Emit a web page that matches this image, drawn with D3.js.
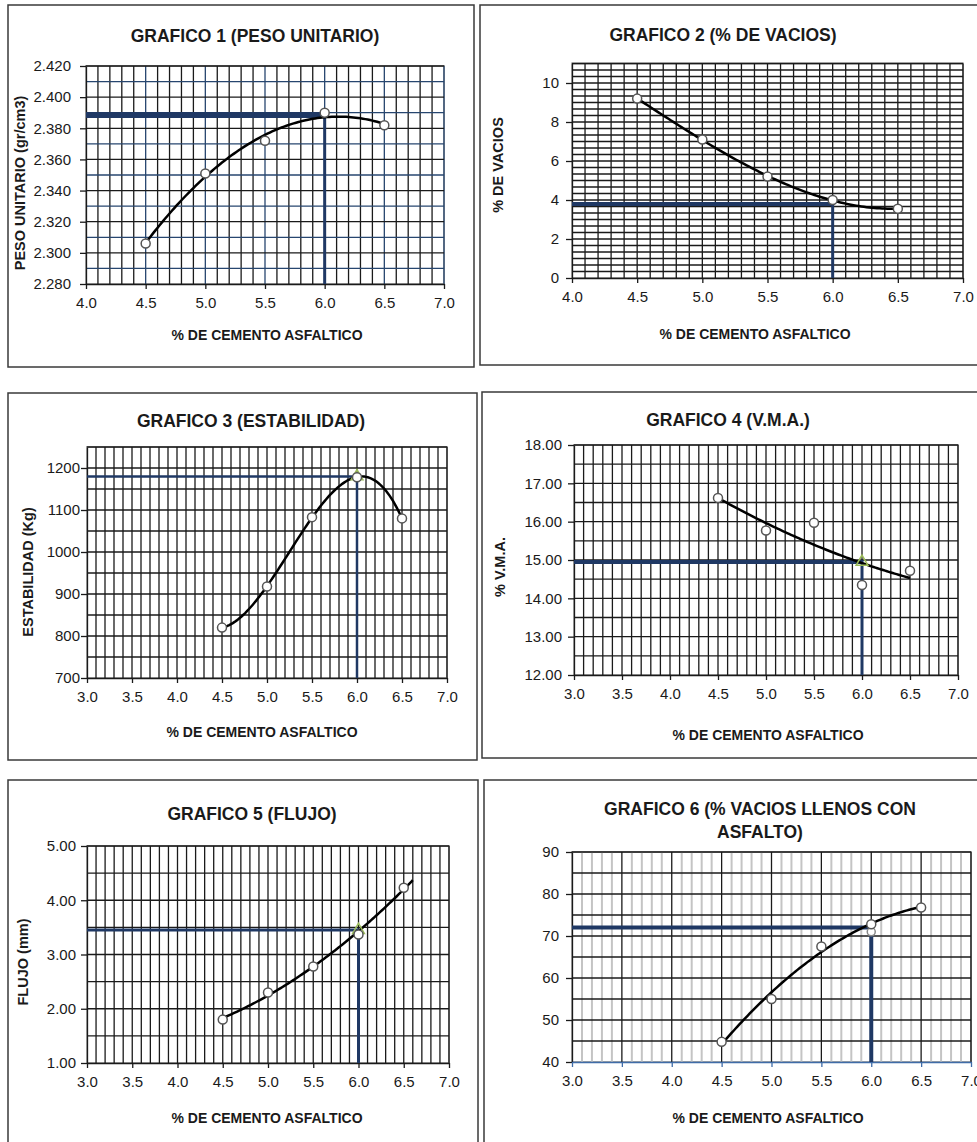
<!DOCTYPE html>
<html>
<head>
<meta charset="utf-8">
<script src="https://cdn.jsdelivr.net/npm/d3@7"></script>
<style>
  body { margin: 0; background: #fff; }
  text { font-family: "Liberation Sans", Arial, sans-serif; fill: #1a1a1a; }
</style>
</head>
<body>
<script>
// Datos de ensayo Marshall (% de cemento asfaltico)
var pctCemento = [4.5, 5.0, 5.5, 6.0, 6.5];
var pesoUnitario = [2.306, 2.351, 2.372, 2.390, 2.382];
var vacios = [9.2, 7.1, 5.2, 4.0, 3.55];
var estabilidad = [820, 918, 1083, 1178, 1080];
var vma = [16.62, 15.77, 15.97, 14.35, 14.72];
var flujo = [1.80, 2.30, 2.78, 3.37, 4.23];
var vacLlenos = [44.8, 55.0, 67.5, 72.8, 76.8];

var optimoCA = 6.0;
var valoresOptimos = [2.3885, 3.8, 1180, 14.95, 3.45, 72];

var titulos = [
  ["GRAFICO 1 (PESO UNITARIO)"],
  ["GRAFICO 2 (% DE VACIOS)"],
  ["GRAFICO 3 (ESTABILIDAD)"],
  ["GRAFICO 4 (V.M.A.)"],
  ["GRAFICO 5 (FLUJO)"],
  ["GRAFICO 6 (% VACIOS LLENOS CON", "ASFALTO)"]
];
var yTitulos = ["PESO UNITARIO (gr/cm3)", "% DE VACIOS", "ESTABILIDAD (Kg)", "% V.M.A.", "FLUJO (mm)", ""];
var xTitulo = "% DE CEMENTO ASFALTICO";

var yTicks = [
  [2.280, 2.300, 2.320, 2.340, 2.360, 2.380, 2.400, 2.420],
  [0, 2, 4, 6, 8, 10],
  [700, 800, 900, 1000, 1100, 1200],
  [12, 13, 14, 15, 16, 17, 18],
  [1, 2, 3, 4, 5],
  [40, 50, 60, 70, 80, 90]
];
var yFormatos = [".3f", "d", "d", ".2f", ".2f", "d"];

var W = 977, H = 1142;
var svg = d3.select("body").append("svg").attr("width", W).attr("height", H);

var navy = "#1f3864";
var gridBlue = "#27466f";

// layout de cada panel
var panels = [
  { data: pesoUnitario, box: [8, 5, 466, 362], plot: [86, 66, 444, 284], xDom: [4, 7], yDom: [2.28, 2.42],
    title: [255, 42], xlab: [267, 340], ytit: [20, 183], ylabGap: 14, order: 2, fitRange: [4.5, 6.5],
    yGrid: 0.01, yGridBlue: true, xMajorBlue: true, hw: 6, vw: 3 },
  { data: vacios, box: [480, 5, 520, 360], plot: [572, 63.5, 963, 278], xDom: [4, 7], yDom: [0, 11],
    title: [723, 41], xlab: [755, 339], ytit: [498, 165], ylabGap: 12, order: 3, fitRange: [4.5, 6.5],
    yGrid: 1 / 3, hw: 4, vw: 3 },
  { data: estabilidad, box: [8, 393, 469, 367], plot: [87, 447, 447, 678], xDom: [3, 7], yDom: [700, 1250],
    title: [251, 427], xlab: [262, 737], ytit: [28, 572], ylabGap: 6, order: 3, fitRange: [4.5, 6.5],
    yGrid: 50, hw: 2.5, vw: 2.5, marker: "tri" },
  { data: vma, box: [482, 392, 520, 366], plot: [574, 445, 958, 675], xDom: [3, 7], yDom: [12, 18],
    title: [728, 426], xlab: [768, 740], ytit: [500, 567], ylabGap: 11, order: 2, fitRange: [4.5, 6.5],
    yGrid: 0.5, hw: 4, vw: 3, marker: "tri" },
  { data: flujo, box: [8, 780, 470, 400], plot: [87, 846, 449, 1063], xDom: [3, 7], yDom: [1, 5],
    title: [252, 820], xlab: [267, 1123], ytit: [23, 962], ylabGap: 10, order: 2, fitRange: [4.5, 6.6],
    yGrid: 0.5, hw: 3, vw: 3, marker: "tri" },
  { data: vacLlenos, box: [484, 780, 520, 400], plot: [572, 852, 971, 1062], xDom: [3, 7], yDom: [40, 90],
    title: [760, 815], xlab: [768, 1123], ytit: null, ylabGap: 12, order: 2, fitRange: [4.5, 6.5],
    yGrid: 5, grayMinor: true, blueAxis: true, hw: 4, vw: 4, marker: "dot", markerY: 71 }
];

// ajuste polinomial por minimos cuadrados (linea de tendencia)
function polyFit(xs, ys, order) {
  var n = order + 1, c = 5.5;
  var A = [];
  for (var i = 0; i < n; i++) {
    A.push(new Array(n + 1).fill(0));
    for (var j = 0; j < n; j++) {
      A[i][j] = d3.sum(xs, x => Math.pow(x - c, i + j));
    }
    A[i][n] = d3.sum(xs, (x, k) => ys[k] * Math.pow(x - c, i));
  }
  for (var p = 0; p < n; p++) {
    var piv = p;
    for (var r = p + 1; r < n; r++) if (Math.abs(A[r][p]) > Math.abs(A[piv][p])) piv = r;
    var tmp = A[p]; A[p] = A[piv]; A[piv] = tmp;
    for (var r2 = p + 1; r2 < n; r2++) {
      var f = A[r2][p] / A[p][p];
      for (var k = p; k <= n; k++) A[r2][k] -= f * A[p][k];
    }
  }
  var coef = new Array(n).fill(0);
  for (var q = n - 1; q >= 0; q--) {
    var s = A[q][n];
    for (var k2 = q + 1; k2 < n; k2++) s -= A[q][k2] * coef[k2];
    coef[q] = s / A[q][q];
  }
  return function(x) {
    return d3.sum(coef, (a, idx) => a * Math.pow(x - c, idx));
  };
}

panels.forEach(function(p, i) {
  var g = svg.append("g");

  // marco del grafico
  g.append("rect")
    .attr("x", p.box[0]).attr("y", p.box[1])
    .attr("width", p.box[2]).attr("height", p.box[3])
    .attr("fill", "none").attr("stroke", "#3a3a3a").attr("stroke-width", 1.5);

  var xScale = d3.scaleLinear().domain(p.xDom).range([p.plot[0], p.plot[2]]);
  var yScale = d3.scaleLinear().domain(p.yDom).range([p.plot[3], p.plot[1]]);

  // borde del area de trazado (gris)
  g.append("rect")
    .attr("x", p.plot[0]).attr("y", p.plot[1])
    .attr("width", p.plot[2] - p.plot[0]).attr("height", p.plot[3] - p.plot[1])
    .attr("fill", "none").attr("stroke", "#a6a6a6").attr("stroke-width", 2);

  // grilla vertical cada 0.1
  var xs = d3.range(p.xDom[0] + 0.1, p.xDom[1] + 0.001, 0.1);
  var isMajor = d => Math.abs(d * 2 - Math.round(d * 2)) < 1e-6;
  g.selectAll(".vgrid").data(xs).enter().append("line")
    .attr("x1", d => xScale(d)).attr("x2", d => xScale(d))
    .attr("y1", p.plot[1]).attr("y2", p.plot[3])
    .attr("stroke", function(d) {
      if (p.grayMinor) return isMajor(d) ? "#1a1a1a" : "#c4c4c4";
      if (p.xMajorBlue && isMajor(d)) return gridBlue;
      return "#1a1a1a";
    })
    .attr("stroke-width", d => (p.grayMinor && !isMajor(d)) ? 2 : 1.3);

  // grilla horizontal
  var nY = Math.round((p.yDom[1] - p.yDom[0]) / p.yGrid);
  var ys = d3.range(1, nY + 1).map(k => p.yDom[0] + k * p.yGrid);
  g.selectAll(".hgrid").data(ys).enter().append("line")
    .attr("x1", p.plot[0]).attr("x2", p.plot[2])
    .attr("y1", d => yScale(d)).attr("y2", d => yScale(d))
    .attr("stroke", (d, k) => (p.yGridBlue && k % 2 === 0) ? gridBlue : "#1a1a1a")
    .attr("stroke-width", 1.3);

  // ejes
  var yAxis = d3.axisLeft(yScale).tickValues(yTicks[i]).tickFormat(d3.format(yFormatos[i]))
    .tickSizeInner(6).tickSizeOuter(0).tickPadding(p.ylabGap - 5);
  var yg = g.append("g").attr("transform", `translate(${p.plot[0]},0)`).call(yAxis);
  yg.select(".domain").attr("stroke", "#1a1a1a").attr("stroke-width", 1.3);
  yg.selectAll(".tick line").attr("stroke", "#1a1a1a").attr("stroke-width", 1.3);
  yg.selectAll("text").attr("font-size", 15).attr("fill", "#1a1a1a")
    .style("font-family", "'Liberation Sans', Arial, sans-serif");

  var xAxis = d3.axisBottom(xScale).tickValues(d3.range(p.xDom[0], p.xDom[1] + 0.001, 0.5))
    .tickFormat(d3.format(".1f")).tickSizeInner(5).tickSizeOuter(0).tickPadding(8);
  var xg = g.append("g").attr("transform", `translate(0,${p.plot[3]})`).call(xAxis);
  var axisColor = p.blueAxis ? "#3f6ca8" : "#1a1a1a";
  xg.select(".domain").attr("stroke", axisColor).attr("stroke-width", 1.6);
  xg.selectAll(".tick line").attr("stroke", axisColor).attr("stroke-width", 1.3);
  xg.selectAll("text").attr("font-size", 15).attr("fill", "#1a1a1a")
    .style("font-family", "'Liberation Sans', Arial, sans-serif");

  // lineas del contenido optimo
  var vOpt = valoresOptimos[i];
  g.append("line")
    .attr("x1", xScale(p.xDom[0])).attr("x2", xScale(optimoCA))
    .attr("y1", yScale(vOpt)).attr("y2", yScale(vOpt))
    .attr("stroke", navy).attr("stroke-width", p.hw);
  g.append("line")
    .attr("x1", xScale(optimoCA)).attr("x2", xScale(optimoCA))
    .attr("y1", yScale(vOpt) - p.hw / 2).attr("y2", yScale(p.yDom[0]))
    .attr("stroke", navy).attr("stroke-width", p.vw);

  // linea de tendencia
  var fit = polyFit(pctCemento, p.data, p.order);
  var curveX = d3.range(p.fitRange[0], p.fitRange[1] + 0.0001, 0.02);
  var line = d3.line().x(d => xScale(d)).y(d => yScale(fit(d)));
  g.append("path").datum(curveX)
    .attr("d", line).attr("fill", "none")
    .attr("stroke", "#000").attr("stroke-width", 2.5);

  // marcador del punto optimo
  if (p.marker === "tri") {
    var tri = d3.symbol().type(d3.symbolTriangle).size(60);
    g.append("path").attr("d", tri())
      .attr("transform", `translate(${xScale(optimoCA)},${yScale(vOpt)})`)
      .attr("fill", "none").attr("stroke", "#9bbb59").attr("stroke-width", 1.5);
  } else if (p.marker === "dot") {
    g.append("circle")
      .attr("cx", xScale(optimoCA)).attr("cy", yScale(p.markerY))
      .attr("r", 4).attr("fill", "#fff").attr("stroke", "#888").attr("stroke-width", 1.5);
  }

  // puntos de ensayo
  g.selectAll(".pt").data(pctCemento).enter().append("circle")
    .attr("cx", d => xScale(d)).attr("cy", (d, k) => yScale(p.data[k]))
    .attr("r", 4.5).attr("fill", "#fff").attr("stroke", "#555").attr("stroke-width", 1.5);

  // titulos
  titulos[i].forEach(function(t, k) {
    g.append("text").attr("x", p.title[0]).attr("y", p.title[1] + k * 23)
      .attr("text-anchor", "middle").attr("font-size", 17.5).attr("font-weight", "bold")
      .text(t);
  });
  g.append("text").attr("x", p.xlab[0]).attr("y", p.xlab[1])
    .attr("text-anchor", "middle").attr("font-size", 14).attr("font-weight", "bold")
    .text(xTitulo);
  if (p.ytit) {
    g.append("text")
      .attr("transform", `translate(${p.ytit[0]},${p.ytit[1]}) rotate(-90)`)
      .attr("text-anchor", "middle").attr("dy", "0.35em")
      .attr("font-size", 14.5).attr("font-weight", "bold")
      .text(yTitulos[i]);
  }
});
</script>
</body>
</html>
